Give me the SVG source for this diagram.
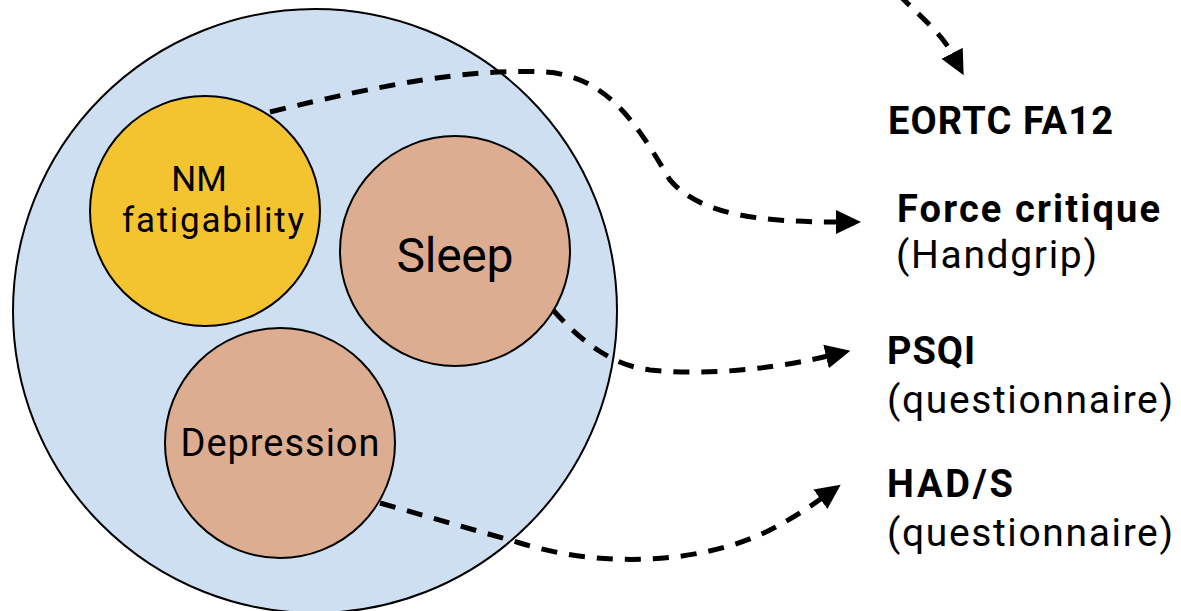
<svg xmlns="http://www.w3.org/2000/svg" width="1181" height="611" viewBox="0 0 1181 611">
  <defs>
    <marker id="arrow" markerUnits="userSpaceOnUse" markerWidth="26" markerHeight="26" refX="2" refY="13" orient="auto" viewBox="0 0 26 26">
      <path d="M0,1 L25,13 L0,25 Z" fill="#000"/>
    </marker>
    <style>
      .lbl { font-family: Roboto, "DejaVu Sans", sans-serif; fill: #000; font-weight: 400; }
      .b { font-weight: bold; }
      .conn { fill: none; stroke: #000; stroke-width: 5; stroke-dasharray: 16 12; marker-end: url(#arrow); }
      .ring { stroke: #000; stroke-width: 2; }
    </style>
  </defs>
  <rect width="1181" height="611" fill="#fff"/>

  <g id="outer">
    <circle class="ring" cx="315" cy="311" r="302" fill="#cddff0"/>
  </g>

  <g id="connectors">
    <path class="conn" d="M 270 112 C 380 85, 470 68, 545 72 C 610 76, 640 130, 670 180 C 700 215, 760 222, 838 222"/>
    <path class="conn" d="M 553 310 C 580 340, 610 365, 650 370 C 720 377, 790 365, 828 356"/>
    <path class="conn" d="M 380 503 L 520 543 C 600 568, 700 565, 770 530 C 795 517, 808 508, 822 498"/>
    <path class="conn" d="M 898 -6 C 922 18, 942 34, 953 55"/>
  </g>

  <g id="nm">
    <circle class="ring" cx="205" cy="211" r="115" fill="#f4c430"/>
    <text class="lbl" x="199" y="191" font-size="35" text-anchor="middle">NM</text>
    <text class="lbl" x="213" y="232" font-size="35" text-anchor="middle" textLength="182">fatigability</text>
  </g>

  <g id="sleep">
    <circle class="ring" cx="455" cy="251" r="115" fill="#ddad91"/>
    <text class="lbl" x="455" y="272" font-size="48" text-anchor="middle" textLength="117">Sleep</text>
  </g>

  <g id="depression">
    <circle class="ring" cx="280" cy="443" r="115" fill="#ddad91"/>
    <text class="lbl" x="280" y="456" font-size="38" text-anchor="middle" textLength="199">Depression</text>
  </g>

  <g id="eortc">
    <text class="lbl b" x="888" y="134" font-size="38" textLength="225">EORTC FA12</text>
  </g>
  <g id="force">
    <text class="lbl b" x="897" y="222" font-size="38" textLength="263">Force critique</text>
    <text class="lbl" x="896" y="268" font-size="39" textLength="201">(Handgrip)</text>
  </g>
  <g id="psqi">
    <text class="lbl b" x="887" y="364" font-size="38" textLength="88">PSQI</text>
    <text class="lbl" x="887" y="413" font-size="39" textLength="286">(questionnaire)</text>
  </g>
  <g id="hads">
    <text class="lbl b" x="887" y="497" font-size="38" textLength="126">HAD/S</text>
    <text class="lbl" x="887" y="546" font-size="39" textLength="286">(questionnaire)</text>
  </g>
</svg>
